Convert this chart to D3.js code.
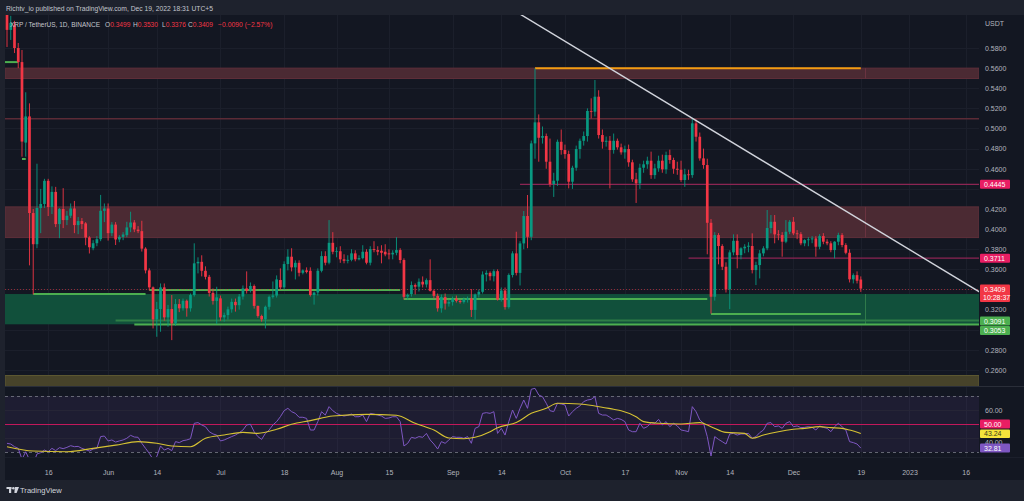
<!DOCTYPE html>
<html><head><meta charset="utf-8">
<script src="https://cdn.jsdelivr.net/npm/d3@7"></script>
<style>html,body{margin:0;padding:0;background:#1e222d;overflow:hidden}svg text{font-family:"Liberation Sans",Arial,sans-serif}</style>
</head><body>
<svg id="c" width="1024" height="501"></svg>
<script>
// ---------- DATA ----------
const dates = [
"05-05","05-06","05-07","05-08","05-09","05-10","05-11","05-12","05-13","05-14","05-15","05-16","05-17","05-18","05-19","05-20","05-21","05-22","05-23","05-24","05-25","05-26","05-27","05-28","05-29","05-30","05-31",
"06-01","06-02","06-03","06-04","06-05","06-06","06-07","06-08","06-09","06-10","06-11","06-12","06-13","06-14","06-15","06-16","06-17","06-18","06-19","06-20","06-21","06-22","06-23","06-24","06-25","06-26","06-27","06-28","06-29","06-30",
"07-01","07-02","07-03","07-04","07-05","07-06","07-07","07-08","07-09","07-10","07-11","07-12","07-13","07-14","07-15","07-16","07-17","07-18","07-19","07-20","07-21","07-22","07-23","07-24","07-25","07-26","07-27","07-28","07-29","07-30","07-31",
"08-01","08-02","08-03","08-04","08-05","08-06","08-07","08-08","08-09","08-10","08-11","08-12","08-13","08-14","08-15","08-16","08-17","08-18","08-19","08-20","08-21","08-22","08-23","08-24","08-25","08-26","08-27","08-28","08-29","08-30","08-31",
"09-01","09-02","09-03","09-04","09-05","09-06","09-07","09-08","09-09","09-10","09-11","09-12","09-13","09-14","09-15","09-16","09-17","09-18","09-19","09-20","09-21","09-22","09-23","09-24","09-25","09-26","09-27","09-28","09-29","09-30",
"10-01","10-02","10-03","10-04","10-05","10-06","10-07","10-08","10-09","10-10","10-11","10-12","10-13","10-14","10-15","10-16","10-17","10-18","10-19","10-20","10-21","10-22","10-23","10-24","10-25","10-26","10-27","10-28","10-29","10-30","10-31",
"11-01","11-02","11-03","11-04","11-05","11-06","11-07","11-08","11-09","11-10","11-11","11-12","11-13","11-14","11-15","11-16","11-17","11-18","11-19","11-20","11-21","11-22","11-23","11-24","11-25","11-26","11-27","11-28","11-29","11-30",
"12-01","12-02","12-03","12-04","12-05","12-06","12-07","12-08","12-09","12-10","12-11","12-12","12-13","12-14","12-15","12-16","12-17","12-18","12-19"];

const open = [
0.615,0.598,0.603,0.580,0.566,0.486,0.512,0.416,0.385,0.421,0.425,0.448,0.422,0.437,0.405,0.420,0.409,0.4133,0.4205,0.404,0.408,0.4057,0.3917,0.381,0.386,0.390,0.4182,
0.4205,0.396,0.4045,0.3897,0.3923,0.394,0.4017,0.4066,0.3995,0.398,0.3806,0.359,0.3421,0.3103,0.3206,0.3421,0.3123,0.3206,0.3063,0.3255,0.3213,0.3288,0.3213,0.3345,0.366,0.3675,0.3586,0.3526,0.3366,0.3287,
0.3312,0.3123,0.3146,0.3203,0.3277,0.3244,0.333,0.3411,0.3388,0.3435,0.3237,0.3137,0.3103,0.3228,0.3327,0.334,0.3494,0.3421,0.3653,0.3726,0.362,0.3665,0.3566,0.359,0.3586,0.3345,0.337,0.3586,0.3732,0.3666,0.3864,
0.3775,0.378,0.370,0.3685,0.3695,0.3759,0.370,0.3712,0.3775,0.3666,0.3802,0.3792,0.3785,0.3775,0.3759,0.3749,0.3765,0.3792,0.3693,0.333,0.3355,0.3444,0.3428,0.3477,0.345,0.3493,0.3387,0.3337,0.3213,0.3325,0.326,
0.3275,0.331,0.3287,0.3275,0.3303,0.331,0.3197,0.335,0.3377,0.3549,0.3565,0.3532,0.3582,0.330,0.339,0.3225,0.3544,0.3759,0.3565,0.3858,0.413,0.3924,0.4852,0.5061,0.4908,0.4925,0.467,0.4448,0.4481,0.4868,
0.4786,0.4746,0.4471,0.461,0.4796,0.4878,0.4925,0.5174,0.5167,0.5316,0.4935,0.4868,0.4878,0.4786,0.4878,0.4813,0.4763,0.4796,0.4664,0.4495,0.4455,0.461,0.4644,0.468,0.4537,0.4604,0.468,0.4594,0.4736,0.4687,0.460,
0.459,0.4488,0.4544,0.4537,0.5051,0.4918,0.4703,0.4637,0.4063,0.3328,0.3941,0.3832,0.3626,0.3401,0.3769,0.3884,0.3742,0.3809,0.3825,0.3832,0.3593,0.3643,0.3759,0.3809,0.4011,0.4073,0.3948,0.3941,0.3875,0.3974,
0.4073,0.3958,0.395,0.3859,0.3891,0.3898,0.3908,0.3825,0.3931,0.3875,0.3859,0.3792,0.3875,0.3941,0.3842,0.3765,0.3501,0.3543,0.3499];

const high = [
0.628,0.612,0.607,0.585,0.578,0.536,0.525,0.420,0.465,0.440,0.450,0.450,0.4425,0.442,0.421,0.4407,0.418,0.4255,0.428,0.412,0.411,0.407,0.393,0.389,0.393,0.434,0.4255,
0.4255,0.407,0.407,0.394,0.397,0.4073,0.4173,0.409,0.403,0.4083,0.382,0.361,0.343,0.3277,0.346,0.346,0.3247,0.3345,0.3305,0.3305,0.331,0.330,0.336,0.3859,0.372,0.374,0.363,0.3545,0.341,0.3427,
0.334,0.317,0.323,0.331,0.331,0.3355,0.344,0.358,0.347,0.345,0.324,0.315,0.324,0.334,0.348,0.354,0.361,0.368,0.380,0.381,0.369,0.369,0.360,0.362,0.362,0.338,0.361,0.378,0.378,0.409,0.397,
0.382,0.383,0.375,0.374,0.380,0.379,0.374,0.384,0.380,0.383,0.388,0.383,0.384,0.385,0.380,0.379,0.392,0.381,0.371,0.336,0.348,0.346,0.351,0.353,0.351,0.370,0.340,0.336,0.335,0.336,0.330,
0.333,0.334,0.330,0.332,0.333,0.3405,0.336,0.340,0.358,0.359,0.358,0.360,0.360,0.342,0.342,0.356,0.378,0.3974,0.388,0.418,0.4339,0.488,0.5598,0.514,0.502,0.495,0.490,0.456,0.489,0.499,
0.484,0.478,0.463,0.483,0.490,0.497,0.520,0.530,0.5482,0.538,0.499,0.492,0.4925,0.495,0.490,0.485,0.483,0.484,0.469,0.456,0.465,0.468,0.472,0.477,0.465,0.473,0.474,0.477,0.479,0.471,0.467,
0.468,0.460,0.459,0.5104,0.509,0.496,0.480,0.470,0.410,0.397,0.396,0.385,0.367,0.379,0.3948,0.3948,0.382,0.385,0.387,0.3958,0.3676,0.3792,0.383,0.419,0.414,0.414,0.399,0.397,0.409,0.409,
0.412,0.399,0.397,0.390,0.392,0.393,0.393,0.395,0.396,0.390,0.388,0.388,0.3964,0.396,0.386,0.380,0.356,0.358,0.353];

const low = [
0.581,0.588,0.575,0.560,0.472,0.472,0.364,0.335,0.381,0.396,0.421,0.413,0.415,0.402,0.391,0.401,0.404,0.411,0.396,0.395,0.400,0.384,0.3758,0.379,0.383,0.388,0.407,
0.3886,0.393,0.3842,0.387,0.389,0.392,0.397,0.397,0.396,0.3777,0.356,0.339,0.3013,0.293,0.298,0.309,0.303,0.2897,0.304,0.3175,0.319,0.313,0.318,0.333,0.356,0.353,0.350,0.333,0.325,0.3057,
0.309,0.308,0.310,0.317,0.318,0.320,0.330,0.336,0.337,0.321,0.312,0.308,0.3013,0.320,0.331,0.332,0.340,0.340,0.359,0.358,0.350,0.353,0.355,0.356,0.333,0.325,0.334,0.357,0.364,0.365,0.375,
0.372,0.3665,0.366,0.366,0.368,0.368,0.369,0.370,0.365,0.364,0.377,0.374,0.366,0.373,0.370,0.370,0.374,0.366,0.330,0.330,0.333,0.335,0.338,0.342,0.342,0.338,0.331,0.318,0.317,0.320,0.323,
0.324,0.327,0.326,0.326,0.327,0.3127,0.310,0.332,0.336,0.348,0.349,0.348,0.329,0.328,0.320,0.321,0.352,0.354,0.344,0.380,0.381,0.389,0.470,0.467,0.485,0.460,0.442,0.432,0.443,0.474,
0.470,0.4405,0.440,0.458,0.470,0.483,0.487,0.510,0.512,0.490,0.480,0.482,0.4405,0.475,0.479,0.474,0.470,0.462,0.447,0.426,0.440,0.456,0.460,0.450,0.450,0.457,0.456,0.455,0.465,0.455,0.454,
0.447,0.442,0.449,0.451,0.487,0.468,0.460,0.375,0.316,0.329,0.365,0.3593,0.337,0.3205,0.374,0.361,0.370,0.376,0.377,0.356,0.3444,0.351,0.373,0.379,0.3958,0.3859,0.389,0.3726,0.386,0.395,
0.394,0.390,0.384,0.383,0.383,0.386,0.3726,0.380,0.385,0.384,0.377,0.3709,0.384,0.382,0.375,0.347,0.346,0.346,0.3376];

const close = [
0.598,0.605,0.580,0.566,0.487,0.512,0.416,0.385,0.421,0.425,0.448,0.422,0.437,0.405,0.420,0.409,0.4133,0.4205,0.404,0.408,0.405,0.3917,0.382,0.386,0.390,0.4182,0.4205,
0.396,0.4045,0.3897,0.3923,0.3947,0.4017,0.4066,0.3997,0.398,0.3806,0.359,0.3421,0.3103,0.3206,0.3421,0.3123,0.3206,0.3063,0.3255,0.3213,0.3288,0.3213,0.3345,0.366,0.3675,0.3586,0.3526,0.3366,0.3287,0.3322,
0.3123,0.3146,0.3203,0.3277,0.3244,0.333,0.3411,0.3388,0.3435,0.3237,0.3137,0.3103,0.3228,0.3327,0.334,0.350,0.3421,0.3653,0.3726,0.362,0.3665,0.3566,0.359,0.3575,0.3345,0.337,0.3586,0.3732,0.3666,0.3864,0.3775,
0.378,0.370,0.3685,0.3695,0.3759,0.370,0.3712,0.3775,0.3666,0.3802,0.3792,0.3775,0.3765,0.3749,0.3749,0.3765,0.3792,0.3693,0.3327,0.3345,0.3444,0.3428,0.3477,0.345,0.3493,0.3387,0.3337,0.3213,0.3325,0.326,0.3275,
0.331,0.3287,0.3275,0.3303,0.331,0.3197,0.335,0.3377,0.3549,0.3565,0.3532,0.3582,0.330,0.339,0.3225,0.3544,0.3759,0.3565,0.3858,0.413,0.3924,0.4852,0.5061,0.4908,0.4925,0.467,0.4448,0.4481,0.4868,0.4786,
0.4746,0.4471,0.461,0.4796,0.4878,0.4925,0.5174,0.5167,0.5316,0.4935,0.4868,0.4878,0.4786,0.4878,0.4813,0.4763,0.4796,0.4664,0.4495,0.4455,0.461,0.4644,0.468,0.4537,0.4604,0.468,0.4594,0.4736,0.4687,0.460,0.459,
0.4488,0.4544,0.4537,0.5051,0.4918,0.4703,0.4637,0.4063,0.3328,0.3941,0.3832,0.3626,0.3401,0.3769,0.3884,0.3742,0.3809,0.3825,0.3835,0.3593,0.3643,0.3759,0.3809,0.4011,0.4073,0.3948,0.3941,0.3875,0.3974,0.4073,
0.3958,0.395,0.3859,0.3891,0.3898,0.3908,0.3825,0.3931,0.3875,0.3859,0.3792,0.3875,0.3941,0.3842,0.3765,0.3501,0.3543,0.3487,0.3409];

const rsi = [
36.2,35.7,33.8,32.6,24.8,30.2,24.3,21.4,28.6,29.5,31.4,30.2,32.6,31.0,33.1,32.4,33.3,34.5,33.8,34.0,32.6,31.7,30.7,32.1,32.6,41.0,41.4,
37.9,38.6,37.1,37.9,38.6,39.8,41.9,40.7,40.5,36.2,32.6,29.0,24.8,26.7,34.3,31.4,32.6,31.0,37.4,36.7,38.1,38.6,39.5,50.5,51.0,49.3,48.1,44.5,42.9,42.1,
37.9,38.6,39.8,41.0,42.1,43.8,45.7,49.3,49.8,44.5,41.0,39.0,43.3,45.7,49.3,51.7,55.2,59.5,61.2,58.8,57.6,54.8,54.8,54.0,45.7,45.7,51.7,58.8,56.4,62.4,59.5,
57.6,56.4,55.7,56.2,57.1,55.2,55.2,56.4,51.7,57.6,57.1,56.4,55.7,54.0,54.3,55.2,55.2,51.7,34.3,36.2,40.5,39.8,41.0,40.5,43.3,38.6,35.7,32.1,37.4,36.2,38.6,
41.0,40.5,40.5,39.8,41.0,36.2,46.9,48.1,57.6,58.1,57.6,58.8,43.3,46.9,42.1,51.7,60.0,54.0,61.2,67.1,61.2,74.8,75.5,70.7,69.5,64.8,59.5,58.8,64.8,64.3,
63.6,55.7,58.8,61.2,62.9,66.0,67.1,67.6,69.5,57.6,56.4,56.4,54.8,52.9,54.0,53.3,51.7,45.7,44.5,44.5,50.5,46.9,48.1,51.0,50.5,53.3,49.3,51.7,48.1,50.5,48.6,
45.7,45.2,44.5,62.4,58.8,52.9,50.5,41.0,27.1,41.0,39.0,37.4,35.7,42.9,43.3,42.1,42.9,42.9,43.3,39.8,41.0,43.8,45.7,50.5,51.0,48.1,48.6,46.9,50.5,51.7,
48.1,48.6,47.4,47.6,48.1,47.6,45.7,48.6,47.6,46.9,44.5,48.1,50.5,48.1,45.7,37.4,36.7,35.7,32.81];

// RSI-based moving average, read at sparse points
const rsiMaDates = ["2022-05-05","2022-05-12","2022-05-21","2022-05-28","2022-06-03","2022-06-09","2022-06-14","2022-06-18","2022-06-23","2022-06-27","2022-07-02","2022-07-07","2022-07-11","2022-07-16","2022-07-20","2022-07-25","2022-07-31","2022-08-09","2022-08-17","2022-08-22","2022-08-27","2022-08-31","2022-09-04","2022-09-07","2022-09-11","2022-09-13","2022-09-18","2022-09-22","2022-09-26","2022-09-29","2022-10-05","2022-10-09","2022-10-14","2022-10-16","2022-10-20","2022-10-22","2022-10-26","2022-11-01","2022-11-06","2022-11-09","2022-11-13","2022-11-18","2022-11-20","2022-11-23","2022-11-27","2022-12-01","2022-12-04","2022-12-08","2022-12-11","2022-12-14","2022-12-16","2022-12-19"];
const rsiMaValues = [33.8,30.7,30.2,32.6,34.9,37.4,36.2,34.3,33.8,39.8,42.1,44.0,43.3,46.2,49.8,52.4,55.7,56.9,56.2,50.5,45.7,40.0,39.5,40.5,44.5,47.4,51.0,57.6,61.2,64.8,64.3,62.9,60.5,59.5,55.2,51.7,50.5,50.0,51.0,48.1,44.0,43.3,39.8,42.1,44.5,46.2,46.9,48.1,47.4,46.9,45.7,43.24];

// zones (price ranges) and drawn levels
const redZones = [[0.5600,0.5497],[0.4221,0.3916]];
const greenZones = [[0.3355,0.3054]];
const oliveZones = [[0.2545,0.2400]];
const levelKinds  = ["redThin","magenta","magenta","orange","green","green","green","green","green","green","greenDark","green"];
const levelPrices = [0.5098,0.4445,0.3711,0.5600,0.5660,0.4697,0.3355,0.3394,0.3305,0.3156,0.3091,0.3053];
const levelFrom   = ["2022-04-20","2022-09-19","2022-11-03","2022-09-23","2022-05-04","2022-05-09","2022-05-12","2022-06-12","2022-08-19","2022-11-09","2022-06-03","2022-06-08"];
const levelTo     = ["2023-02-10","2023-02-10","2023-02-10","2022-12-19","2022-05-08","2022-05-10","2022-06-11","2022-08-18","2022-11-08","2022-12-19","2023-02-10","2023-02-10"];
const trendDates  = ["2022-09-19","2023-01-20"];
const trendPrices = [0.6137,0.3369];
const lastPrice = 0.3409;

const priceTicks = [0.58,0.56,0.54,0.52,0.50,0.48,0.46,0.42,0.40,0.38,0.36,0.32,0.28,0.26];
const gridPrices = [0.58,0.56,0.54,0.52,0.50,0.48,0.46,0.44,0.42,0.40,0.38,0.36,0.34,0.32,0.30,0.28,0.26];
const timeTickDates = ["2022-05-16","2022-06-01","2022-06-14","2022-07-01","2022-07-18","2022-08-01","2022-08-15","2022-09-01","2022-09-14","2022-10-01","2022-10-17","2022-11-01","2022-11-14","2022-12-01","2022-12-19","2023-01-01","2023-01-16"];
const timeTickLabels = ["16","Jun","14","Jul","18","Aug","15","Sep","14","Oct","17","Nov","14","Dec","19","2023","16"];
const rsiTicks = [60,40];
const priceBadges = [["0.4445",0.4445,"pink"],["0.3711",0.3711,"pink"],["0.3091",0.3091,"green"],["0.3053",0.3053,"green"]];
const rsiBadges = [["50.00",50,"pink"],["43.24",43.24,"yellow"],["32.81",32.81,"purple"]];

// ---------- STYLE ----------
const C = {bg:"#131722",frame:"#1e222d",grid:"#1b1f2b",text:"#b2b5be",up:"#089981",down:"#f23645",
  redZone:"#4b2a33",redEdge:"#5e2f3a",greenZone:"#11503b",olive:"#47432a",
  redThin:"#5c2b36",magenta:"#8c2553",orange:"#f39c12",green:"#4caf50",greenDark:"#2e7d46",
  pink:"#e91e63",yellow:"#f5e33b",purple:"#7e57c2",rsiLine:"#7e57c2",rsiMa:"#d6c233",rsiMid:"#c2185b"};

const parse = d3.utcParse("%Y-%m-%d");
const svg = d3.select("#c");
const P = {l:5,r:979,t:15,b:386};
const R = {t:387,b:457};

const x = d3.scaleUtc().domain([parse("2022-05-16"),parse("2022-12-19")]).range([48.2,860.8]);
const y = d3.scaleLinear().domain([0.26,0.58]).range([370,48]);
const yr = d3.scaleLinear().domain([30,70]).range([452,396]);

const bars = dates.map((d,i)=>({d:parse("2022-"+d),o:open[i],h:high[i],l:low[i],c:close[i],r:rsi[i]}));

// backgrounds
svg.append("rect").attr("width",1024).attr("height",501).attr("fill",C.frame);
svg.append("rect").attr("x",5).attr("y",15).attr("width",1019).attr("height",465).attr("fill",C.bg);

const defs = svg.append("defs");
defs.append("clipPath").attr("id","mainClip").append("rect").attr("x",P.l).attr("y",P.t).attr("width",P.r-P.l).attr("height",P.b-P.t);
defs.append("clipPath").attr("id","rsiClip").append("rect").attr("x",P.l).attr("y",R.t).attr("width",P.r-P.l).attr("height",R.b-R.t);

// grid
const grid = svg.append("g");
grid.selectAll(".vg").data(timeTickDates).join("line")
  .attr("x1",d=>Math.round(x(parse(d)))+0.5).attr("x2",d=>Math.round(x(parse(d)))+0.5)
  .attr("y1",P.t).attr("y2",R.b).attr("stroke",C.grid).attr("stroke-width",1);
grid.selectAll(".hg").data(gridPrices).join("line")
  .attr("x1",P.l).attr("x2",P.r).attr("y1",d=>Math.round(y(d))+0.5).attr("y2",d=>Math.round(y(d))+0.5)
  .attr("stroke",C.grid);

const main = svg.append("g").attr("clip-path","url(#mainClip)");

// zones
main.selectAll(".oz").data(oliveZones).join("rect")
  .attr("x",P.l).attr("width",P.r-P.l).attr("y",d=>y(d[0])).attr("height",d=>y(d[1])-y(d[0]))
  .attr("fill",C.olive).attr("stroke","#5e5932").attr("stroke-width",1);
main.selectAll(".rz").data(redZones).join("rect")
  .attr("x",P.l).attr("width",P.r-P.l).attr("y",d=>y(d[0])).attr("height",d=>y(d[1])-y(d[0]))
  .attr("fill",C.redZone).attr("stroke",C.redEdge).attr("stroke-width",1);
main.selectAll(".gz").data(greenZones).join("rect")
  .attr("x",P.l).attr("width",P.r-P.l).attr("y",d=>y(d[0])).attr("height",d=>y(d[1])-y(d[0]))
  .attr("fill",C.greenZone);
// zone right edges near the last bar
const edgeX = Math.round(x(parse("2022-12-20")))+0.5;
redZones.concat(greenZones).forEach((z,i)=>{
  main.append("line").attr("x1",edgeX).attr("x2",edgeX).attr("y1",y(z[0])).attr("y2",y(z[1]))
    .attr("stroke",i<redZones.length?"#6a3340":"#2f7a4a").attr("stroke-width",1);
});

// level lines
const levelW = {redThin:1.5,magenta:1.3,orange:2,green:2,greenDark:2};
levelPrices.forEach((p,i)=>{
  main.append("line").attr("x1",x(parse(levelFrom[i]))).attr("x2",x(parse(levelTo[i])))
    .attr("y1",y(p)).attr("y2",y(p)).attr("stroke",C[levelKinds[i]]).attr("stroke-width",levelW[levelKinds[i]]);
});

// last price dotted line
main.append("line").attr("x1",P.l).attr("x2",P.r).attr("y1",Math.round(y(lastPrice))+0.5).attr("y2",Math.round(y(lastPrice))+0.5)
  .attr("stroke",C.down).attr("stroke-opacity",0.55).attr("stroke-dasharray","1,2");

// candles
const bw = 2.7;
const cg = main.append("g");
cg.selectAll(".wick").data(bars).join("line")
  .attr("x1",d=>x(d.d)).attr("x2",d=>x(d.d)).attr("y1",d=>y(d.h)).attr("y2",d=>y(d.l))
  .attr("stroke",d=>d.c>=d.o?C.up:C.down).attr("stroke-width",0.9);
cg.selectAll(".body").data(bars).join("rect")
  .attr("x",d=>x(d.d)-bw/2).attr("width",bw)
  .attr("y",d=>y(Math.max(d.o,d.c))).attr("height",d=>Math.max(0.8,Math.abs(y(d.o)-y(d.c))))
  .attr("fill",d=>d.c>=d.o?C.up:C.down);

// trend line
main.append("line").attr("x1",x(parse(trendDates[0]))).attr("y1",y(trendPrices[0]))
  .attr("x2",x(parse(trendDates[1]))).attr("y2",y(trendPrices[1]))
  .attr("stroke","#d1d4dc").attr("stroke-width",1.4);

// pane separators
svg.append("line").attr("x1",P.l).attr("x2",1024).attr("y1",386.5).attr("y2",386.5).attr("stroke","#2a2e39");
svg.append("line").attr("x1",P.l).attr("x2",1024).attr("y1",457.5).attr("y2",457.5).attr("stroke","#1b1f2b");

// ---------- RSI pane ----------
const rg = svg.append("g").attr("clip-path","url(#rsiClip)");
rg.append("rect").attr("x",P.l).attr("width",P.r-P.l).attr("y",yr(70)).attr("height",yr(30)-yr(70))
  .attr("fill","#7e57c2").attr("fill-opacity",0.1);
[70,30].forEach(v=>rg.append("line").attr("x1",P.l).attr("x2",P.r).attr("y1",Math.round(yr(v))+0.5).attr("y2",Math.round(yr(v))+0.5)
  .attr("stroke","#787b86").attr("stroke-dasharray","3,3").attr("stroke-width",0.8));
[60,40].forEach(v=>rg.append("line").attr("x1",P.l).attr("x2",P.r).attr("y1",Math.round(yr(v))+0.5).attr("y2",Math.round(yr(v))+0.5)
  .attr("stroke","#262536"));
rg.append("line").attr("x1",P.l).attr("x2",P.r).attr("y1",Math.round(yr(50))+0.5).attr("y2",Math.round(yr(50))+0.5)
  .attr("stroke",C.rsiMid).attr("stroke-width",1);
rg.append("path").datum(bars).attr("fill","none").attr("stroke",C.rsiLine).attr("stroke-width",1)
  .attr("d",d3.line().x(d=>x(d.d)).y(d=>yr(d.r)));
const maPts = rsiMaDates.map((d,i)=>[parse(d),rsiMaValues[i]]);
rg.append("path").datum(maPts).attr("fill","none").attr("stroke",C.rsiMa).attr("stroke-width",1.1)
  .attr("d",d3.line().curve(d3.curveMonotoneX).x(d=>x(d[0])).y(d=>yr(d[1])));

// ---------- AXES ----------
const fs = "7px";
const pa = svg.append("g").attr("transform","translate(980,0)")
  .call(d3.axisRight(y).tickValues(priceTicks).tickFormat(d3.format(".4f")).tickSize(0).tickPadding(5));
pa.select(".domain").remove();
pa.selectAll("text").attr("fill",C.text).style("font-size",fs).style("font-family","Liberation Sans, Arial, sans-serif");

const ra = svg.append("g").attr("transform","translate(980,0)")
  .call(d3.axisRight(yr).tickValues(rsiTicks).tickFormat(d3.format(".2f")).tickSize(0).tickPadding(5));
ra.select(".domain").remove();
ra.selectAll("text").attr("fill",C.text).style("font-size",fs).style("font-family","Liberation Sans, Arial, sans-serif");
// the 40.00 label peeks out just below the MA badge
ra.selectAll(".tick").filter(d=>d===40).select("text").attr("dy","0.95em");

const ta = svg.append("g").attr("transform","translate(0,467)")
  .call(d3.axisBottom(x).tickValues(timeTickDates.map(parse)).tickFormat((d,i)=>timeTickLabels[i]).tickSize(0).tickPadding(3.5));
ta.select(".domain").remove();
ta.selectAll("text").attr("fill",C.text).style("font-size",fs).style("font-family","Liberation Sans, Arial, sans-serif");

svg.append("text").attr("x",985).attr("y",25.5).attr("fill",C.text).style("font-size",fs).text("USDT");

// badges
function badge(yc,label,color,txtColor,h){
  h = h||9;
  svg.append("rect").attr("x",980).attr("y",yc-h/2).attr("width",30).attr("height",h).attr("fill",color).attr("rx",1);
  svg.append("text").attr("x",984).attr("y",yc+2.5).attr("fill",txtColor).style("font-size",fs).text(label);
}
const badgeY = {"0.3091":321,"0.3053":330.6};
priceBadges.forEach(b=>badge(badgeY[b[0]]||y(b[1]),b[0],C[b[2]],"#ffffff"));
// last price two-line badge
svg.append("rect").attr("x",980).attr("y",284.5).attr("width",30).attr("height",17.5).attr("fill",C.down).attr("rx",1);
svg.append("text").attr("x",984).attr("y",291.5).attr("fill","#fff").style("font-size",fs).text(lastPrice.toFixed(4));
svg.append("text").attr("x",983).attr("y",299.5).attr("fill","#fff").style("font-size",fs).text("10:28:37");
rsiBadges.forEach(b=>badge(yr(b[1])+(b[0]==="43.24"?0.3:0),b[0],C[b[2]],b[2]==="yellow"?"#3a3a1a":"#ffffff",b[0]==="43.24"?8.4:9));

// ---------- HEADER / FOOTER ----------
svg.append("text").attr("x",6).attr("y",11).attr("fill","#c3c6ce").style("font-size","7px")
  .attr("textLength",207).attr("lengthAdjust","spacingAndGlyphs")
  .text("Richtv_io published on TradingView.com, Dec 19, 2022 18:31 UTC+5");
const hy = 26.5;
svg.append("text").attr("x",10).attr("y",hy).attr("fill","#c3c6ce").style("font-size","7px")
  .attr("textLength",90).attr("lengthAdjust","spacingAndGlyphs").text("XRP / TetherUS, 1D, BINANCE");
const ohlc = [["O","0.3499",105],["H","0.3530",133],["L","0.3376",162],["C","0.3409",188]];
ohlc.forEach(o=>{
  const t = svg.append("text").attr("x",o[2]).attr("y",hy).style("font-size","6.6px");
  t.append("tspan").attr("fill","#c3c6ce").text(o[0]);
  t.append("tspan").attr("fill",C.down).text(o[1]);
});
svg.append("text").attr("x",218).attr("y",hy).attr("fill",C.down).style("font-size","6.8px").text("\u22120.0090 (\u22122.57%)");

// footer logo + brand
const lg = svg.append("g").attr("fill","#d1d4dc");
lg.append("rect").attr("x",6.5).attr("y",487).attr("width",5).attr("height",2);
lg.append("rect").attr("x",9).attr("y",487).attr("width",2.2).attr("height",6);
lg.append("circle").attr("cx",13.3).attr("cy",488.2).attr("r",1.2);
lg.append("path").attr("d","M14.8,487 L19,487 L16.6,493 L14.4,493 Z");
svg.append("text").attr("x",20).attr("y",493).attr("fill","#d1d4dc").style("font-size","7.6px").text("TradingView");
</script>
</body></html>
